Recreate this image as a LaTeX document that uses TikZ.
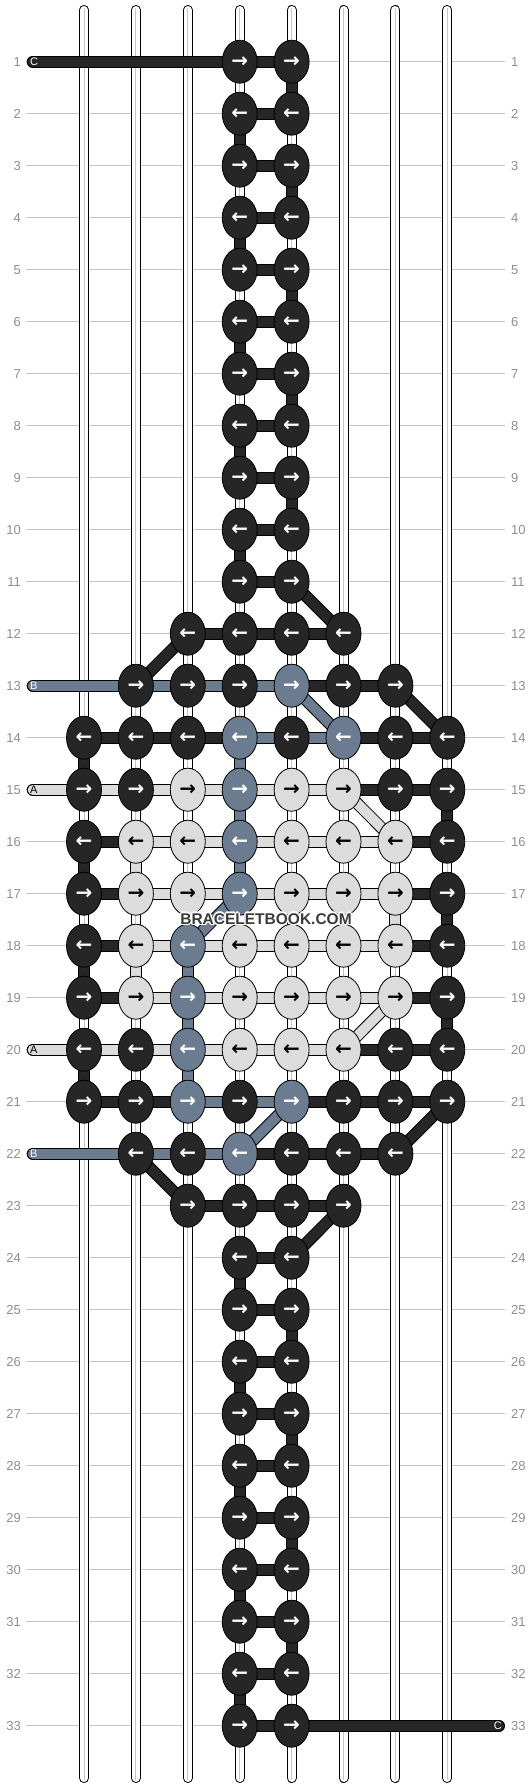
\documentclass[tikz,border=0pt]{standalone}
\usepackage{fontspec}
\setmainfont{Liberation Sans}
\newfontfamily\arrowfont{DejaVu Sans}
\usetikzlibrary{shapes.geometric}
\definecolor{cD}{HTML}{262626}
\definecolor{cB}{HTML}{6C7C90}
\definecolor{cL}{HTML}{DCDCDC}
\colorlet{tD}{white}
\colorlet{tB}{white}
\colorlet{tL}{black}
\definecolor{gridgray}{HTML}{C4C4C4}
\definecolor{labgray}{HTML}{8E8E8E}
\definecolor{centergray}{HTML}{C8C8C8}
\definecolor{wmgray}{HTML}{3A3A3A}
\pgfdeclarelayer{bg}
\pgfdeclarelayer{bars}
\pgfsetlayers{bg,bars,main}
\begin{document}
\begin{tikzpicture}[x=1pt,y=-1pt,
  knot/.style={ellipse,draw=black,line width=0.8pt,minimum width=35pt,minimum height=43pt,inner sep=0pt,font=\arrowfont\bfseries\fontsize{20}{20}\selectfont},
  rowlab/.style={text=labgray,font=\fontsize{13}{13}\selectfont,inner sep=0pt},
  edgelab/.style={font=\fontsize{11}{11}\selectfont,inner sep=0pt},
  wm/.style={font=\bfseries\fontsize{15.5}{16}\selectfont,inner sep=0pt}]
\useasboundingbox (0,0) rectangle (532,1788);
% ---------- knots ----------
\foreach \r in {1,...,11} {
  \foreach \c in {4,5} {
    \pgfmathsetmacro\xx{84+(\c-1)*51.9}
    \pgfmathsetmacro\yy{61.7+(\r-1)*52}
    \node[knot,fill=cD,text=tD] (k-\c-\r) at (\xx,\yy) {\ifodd\r →\else ←\fi};
  }
}
\foreach \r in {24,...,33} {
  \foreach \c in {4,5} {
    \pgfmathsetmacro\xx{84+(\c-1)*51.9}
    \pgfmathsetmacro\yy{61.7+(\r-1)*52}
    \node[knot,fill=cD,text=tD] (k-\c-\r) at (\xx,\yy) {\ifodd\r →\else ←\fi};
  }
}
\foreach \r/\s/\cols in {12/3/{D,D,D,D}, 13/2/{D,D,D,B,D,D}, 14/1/{D,D,D,B,D,B,D,D},
   15/1/{D,D,L,B,L,L,D,D}, 16/1/{D,L,L,B,L,L,L,D}, 17/1/{D,L,L,B,L,L,L,D},
   18/1/{D,L,B,L,L,L,L,D}, 19/1/{D,L,B,L,L,L,L,D}, 20/1/{D,D,B,L,L,L,D,D},
   21/1/{D,D,B,D,B,D,D,D}, 22/2/{D,D,B,D,D,D}, 23/3/{D,D,D,D}} {
  \foreach \kc [count=\i from 0] in \cols {
    \pgfmathtruncatemacro\c{\s+\i}
    \pgfmathsetmacro\xx{84+(\c-1)*51.9}
    \pgfmathsetmacro\yy{61.7+(\r-1)*52}
    \node[knot,fill=c\kc,text=t\kc] (k-\c-\r) at (\xx,\yy) {\ifodd\r →\else ←\fi};
  }
}
% ---------- labels ----------
\foreach \r in {1,...,33} {
  \pgfmathsetmacro\yy{61.7+(\r-1)*52}
  \node[rowlab,anchor=east] (ll-\r) at (21,\yy) {\r};
  \node[rowlab,anchor=west] (lr-\r) at (511,\yy) {\r};
}
% edge string ends
\coordinate (e1) at (32.7,61.7);
\coordinate (e13) at (32.7,685.7);
\coordinate (e15) at (32.7,789.7);
\coordinate (e20) at (32.7,1049.7);
\coordinate (e22) at (32.7,1153.7);
\coordinate (e33) at (499,1725.7);
\node[edgelab,text=white,anchor=west] (el1) at (30,61.7) {C};
\node[edgelab,text=white,anchor=west] (el13) at (30,685.7) {B};
\node[edgelab,text=black,anchor=west] (el15) at (30,789.7) {A};
\node[edgelab,text=black,anchor=west] (el20) at (30,1049.7) {A};
\node[edgelab,text=white,anchor=west] (el22) at (30,1153.7) {B};
\node[edgelab,text=white,anchor=east] (el33) at (502,1725.7) {C};
% watermark
\foreach \dx/\dy [count=\n] in {-1/-1,-1/0,-1/1,0/-1,0/1,1/-1,1/0,1/1,-1.5/0,1.5/0,0/1.5,0/-1.5} {
  \node[wm,text=white] (wmh-\n) at (266+\dx,919+\dy) {BRACELETBOOK.COM};
}
\node[wm,text=wmgray] (wm) at (266,919) {BRACELETBOOK.COM};
% ---------- bars ----------
\begin{pgfonlayer}{bars}
  % edge strings
  \foreach \a/\b/\col in {e1/k-4-1/cD, e13/k-2-13/cB, e15/k-1-15/cL, e20/k-1-20/cL, e22/k-2-22/cB, e33/k-5-33/cD} {
    \draw[line width=12pt,black,line cap=round] (\a) -- (\b.center);
    \draw[line width=10pt,\col,line cap=round] (\a) -- (\b.center);
  }
  % horizontal connectors
  \foreach \r in {1,...,11,24,25,...,33} {
    \draw[line width=12pt,black] (k-4-\r.center) -- (k-5-\r.center);
    \draw[line width=10pt,cD] (k-4-\r.center) -- (k-5-\r.center);
  }
  \foreach \r/\s/\cols in {12/3/{D,D,D}, 13/2/{B,B,B,D,D}, 14/1/{D,D,D,B,B,D,D},
     15/1/{L,L,L,L,L,D,D}, 16/1/{D,L,L,L,L,L,D}, 17/1/{D,L,L,L,L,L,D},
     18/1/{D,L,L,L,L,L,D}, 19/1/{D,L,L,L,L,L,D}, 20/1/{L,L,L,L,L,D,D},
     21/1/{D,D,B,B,D,D,D}, 22/2/{B,B,D,D,D}, 23/3/{D,D,D}} {
    \foreach \kc [count=\i from 0] in \cols {
      \pgfmathtruncatemacro\c{\s+\i}
      \pgfmathtruncatemacro\cc{\s+\i+1}
      \draw[line width=12pt,black] (k-\c-\r.center) -- (k-\cc-\r.center);
      \draw[line width=10pt,c\kc] (k-\c-\r.center) -- (k-\cc-\r.center);
    }
  }
  % vertical turning bars
  \foreach \r in {1,...,10,24,25,...,32} {
    \pgfmathtruncatemacro\rr{\r+1}
    \pgfmathtruncatemacro\c{isodd(\r) ? 5 : 4}
    \draw[line width=12pt,black] (k-\c-\r.center) -- (k-\c-\rr.center);
    \draw[line width=10pt,cD] (k-\c-\r.center) -- (k-\c-\rr.center);
  }
  \foreach \c/\r/\kc in {1/14/D, 4/14/B, 4/15/B, 8/15/D, 1/16/D, 2/16/L, 4/16/B, 7/17/L, 8/17/D,
     1/18/D, 2/18/L, 3/18/B, 3/19/B, 8/19/D, 1/20/D, 3/20/B} {
    \pgfmathtruncatemacro\rr{\r+1}
    \draw[line width=12pt,black] (k-\c-\r.center) -- (k-\c-\rr.center);
    \draw[line width=10pt,c\kc] (k-\c-\r.center) -- (k-\c-\rr.center);
  }
  % diagonals
  \foreach \c/\r/\cc/\kc in {5/11/6/D, 3/12/2/D, 5/13/6/B, 7/13/8/D, 6/15/7/L, 4/17/3/B,
     7/19/6/L, 5/21/4/B, 8/21/7/D, 2/22/3/D, 6/23/5/D} {
    \pgfmathtruncatemacro\rr{\r+1}
    \draw[line width=12pt,black] (k-\c-\r.center) -- (k-\cc-\rr.center);
    \draw[line width=10pt,c\kc] (k-\c-\r.center) -- (k-\cc-\rr.center);
  }
\end{pgfonlayer}
% ---------- background: grid lines and base strings ----------
\begin{pgfonlayer}{bg}
  \foreach \r in {1,...,33} {
    \pgfmathsetmacro\yy{61.7+(\r-1)*52}
    \draw[gridgray,line width=1pt] (26,\yy) -- (505,\yy);
  }
  \foreach \c in {1,...,8} {
    \pgfmathsetmacro\xx{84+(\c-1)*51.9}
    \draw[black,line width=10pt,line cap=round] (\xx,10) -- (\xx,1778);
    \draw[white,line width=8pt,line cap=round] (\xx,10) -- (\xx,1778);
    \draw[centergray,line width=1pt] (\xx,8) -- (\xx,1780);
  }
\end{pgfonlayer}
\end{tikzpicture}
\end{document}
